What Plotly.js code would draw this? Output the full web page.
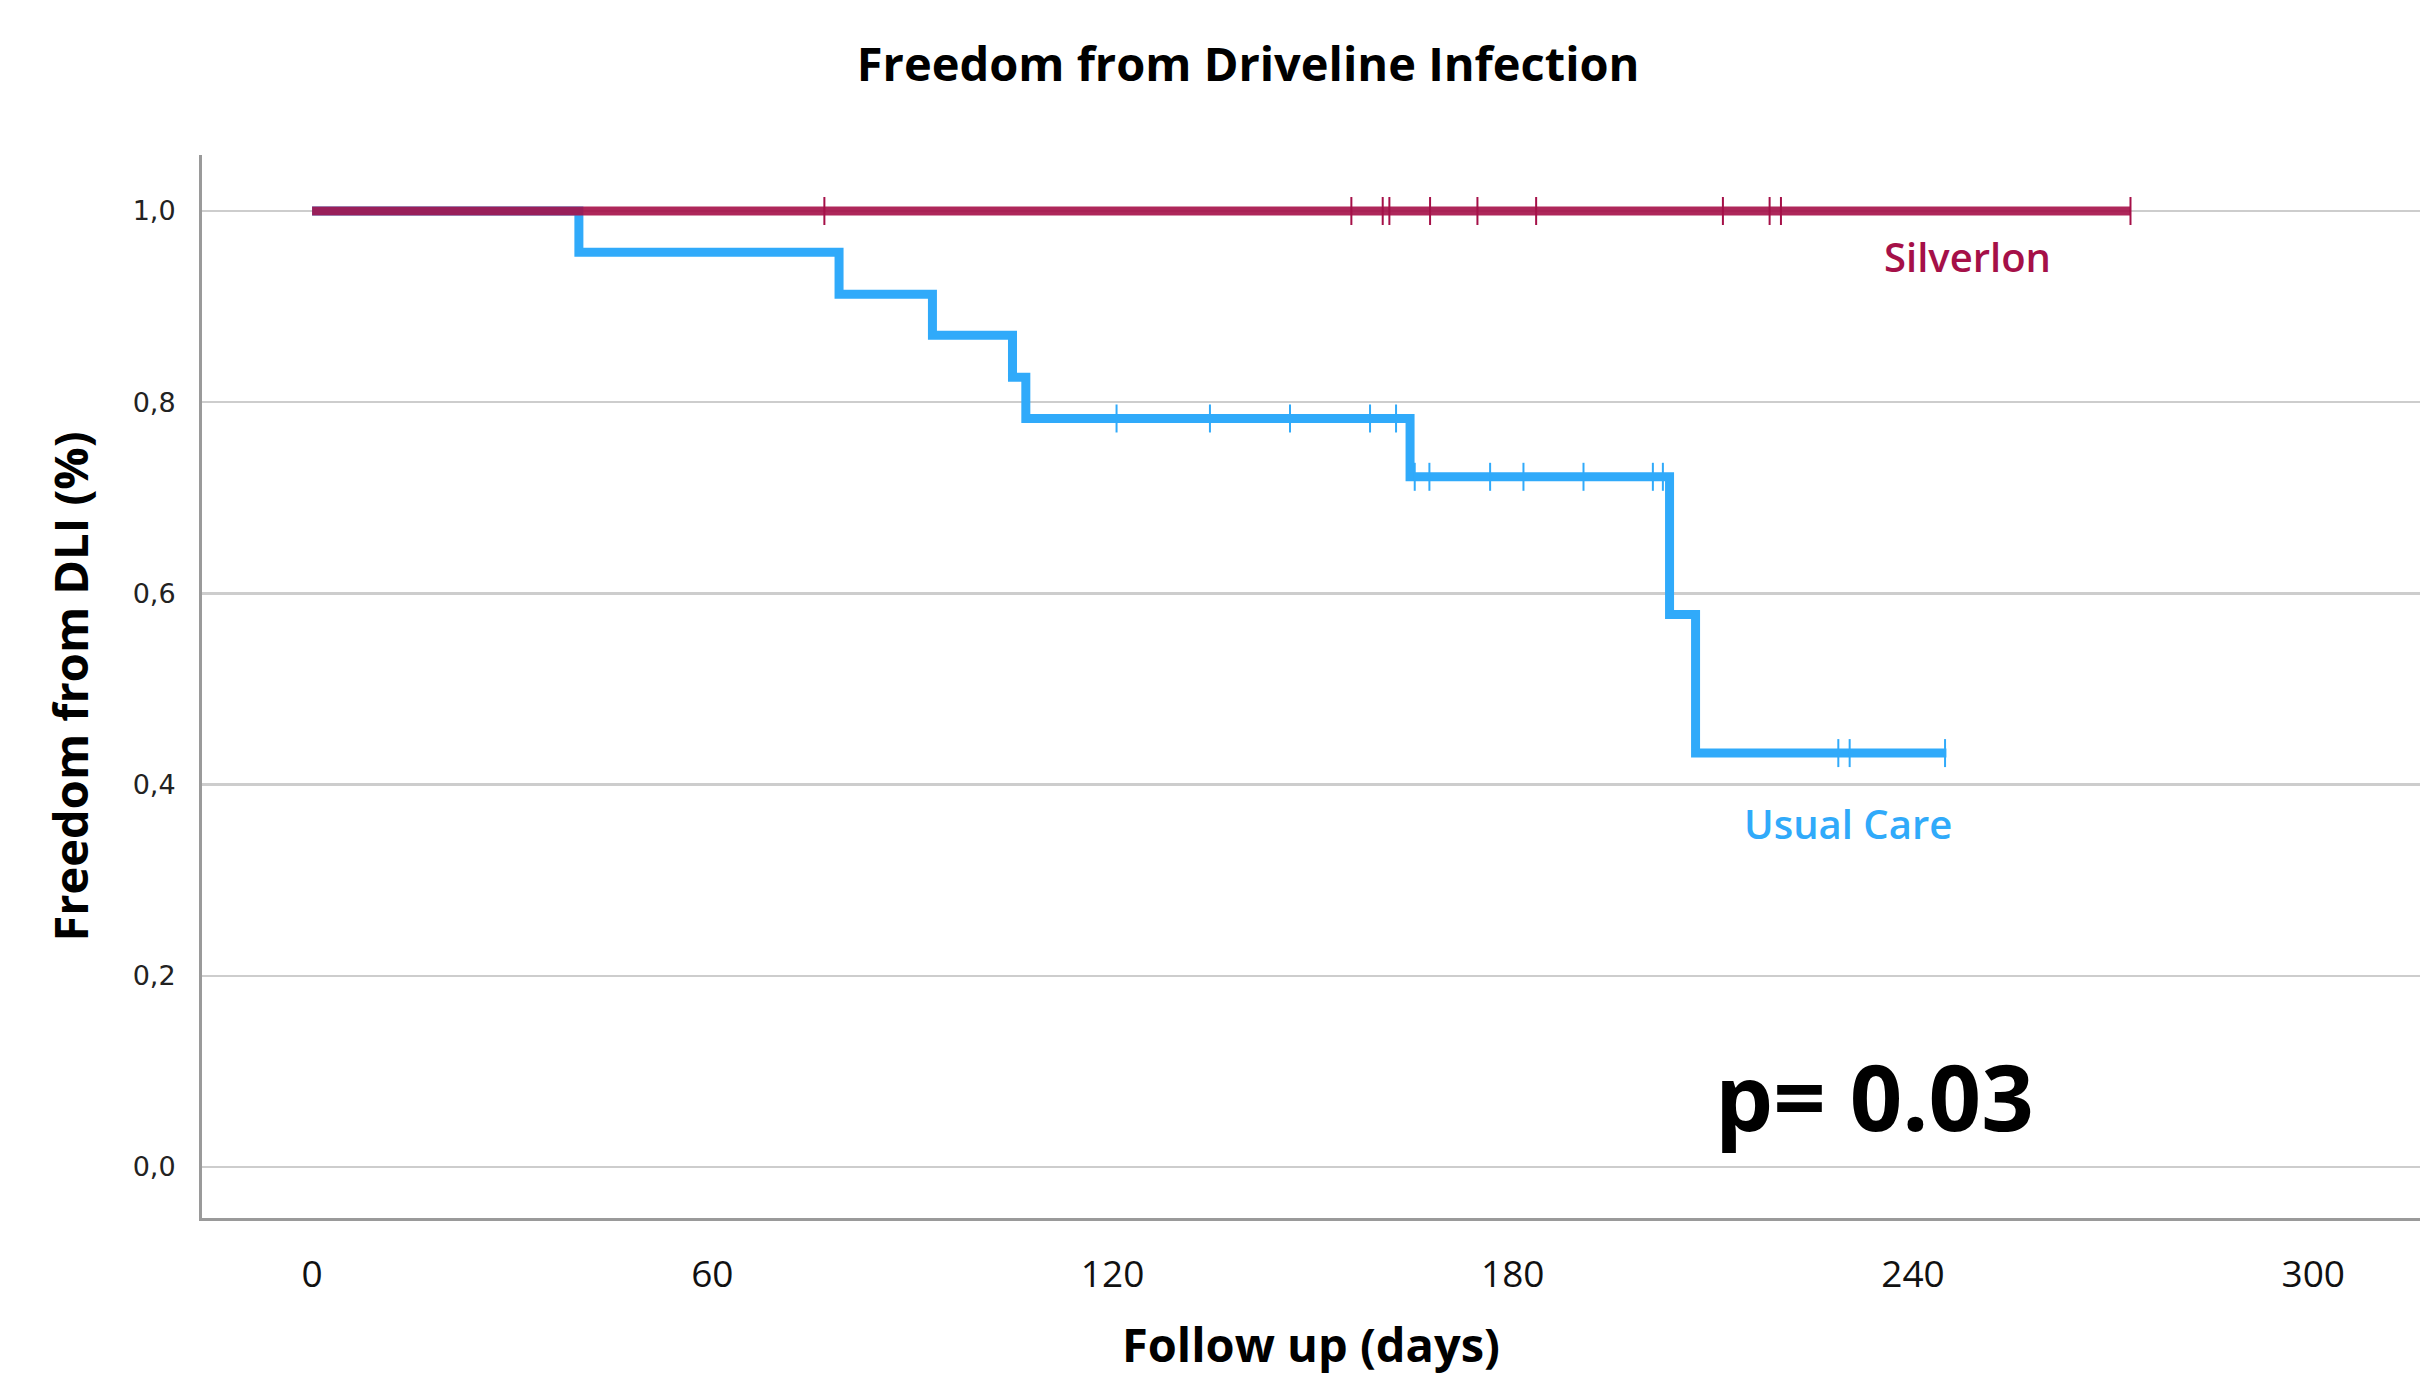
<!DOCTYPE html>
<html>
<head>
<meta charset="utf-8">
<script src="https://cdn.plot.ly/plotly-3.0.1.min.js"></script>
<style>
html, body { margin: 0; padding: 0; background: #ffffff; }
#chart { width: 2433px; height: 1378px; }
</style>
</head>
<body>
<div id="chart"></div>
<script>
// Kaplan-Meier step data (days, survival)
const usualCareTimes = [0, 40, 79, 93, 105, 107, 164.6, 203.5, 207.4, 245];
const usualCareSurv  = [1.0, 0.957, 0.913, 0.870, 0.826, 0.783, 0.722, 0.578, 0.433, 0.433];
const usualCareCensorTimes = [120.6, 134.6, 146.6, 158.6, 162.5, 165.3, 167.5, 176.6, 181.6, 190.6, 201.0, 202.5, 228.8, 230.5, 244.8];
const usualCareCensorSurv  = [0.783, 0.783, 0.783, 0.783, 0.783, 0.722, 0.722, 0.722, 0.722, 0.722, 0.722, 0.722, 0.433, 0.433, 0.433];

const silverlonTimes = [0, 272.6];
const silverlonSurv  = [1.0, 1.0];
const silverlonCensorTimes = [76.8, 155.8, 160.5, 161.5, 167.6, 174.7, 183.5, 211.5, 218.5, 220.2, 272.6];
const silverlonCensorSurv  = [1.0, 1.0, 1.0, 1.0, 1.0, 1.0, 1.0, 1.0, 1.0, 1.0, 1.0];

const xTickVals = [0, 60, 120, 180, 240, 300];
const yTickVals = [0, 0.2, 0.4, 0.6, 0.8, 1.0];

const blue = 'rgb(48,170,250)';
const maroon = 'rgb(165,16,72)';

const traces = [
  {
    x: usualCareTimes, y: usualCareSurv, type: 'scatter', mode: 'lines',
    line: { shape: 'hv', color: blue, width: 9 }, hoverinfo: 'skip', showlegend: false
  },
  {
    x: usualCareCensorTimes, y: usualCareCensorSurv, type: 'scatter', mode: 'markers',
    marker: { symbol: 'line-ns', size: 20, line: { color: blue, width: 2 } },
    hoverinfo: 'skip', showlegend: false
  },
  {
    x: silverlonTimes, y: silverlonSurv, type: 'scatter', mode: 'lines',
    line: { shape: 'hv', color: maroon, width: 9 }, opacity: 0.9, hoverinfo: 'skip', showlegend: false
  },
  {
    x: silverlonCensorTimes, y: silverlonCensorSurv, type: 'scatter', mode: 'markers',
    marker: { symbol: 'line-ns', size: 20, line: { color: maroon, width: 2 } },
    hoverinfo: 'skip', showlegend: false
  }
];

const layout = {
  width: 2433, height: 1378,
  paper_bgcolor: '#ffffff', plot_bgcolor: '#ffffff',
  margin: { l: 202, r: 13, t: 155, b: 160 },
  separators: ', ',
  showlegend: false,
  title: {
    text: '<b>Freedom from Driveline Infection</b>',
    font: { family: 'Open Sans', size: 47, color: '#000000' },
    xref: 'container', x: 0.513, xanchor: 'center',
    yref: 'container', y: 0.953, yanchor: 'middle'
  },
  xaxis: {
    range: [-16.5, 316],
    tickvals: xTickVals,
    ticktext: xTickVals.map(String),
    showgrid: false, zeroline: false,
    showline: true, linecolor: '#9a9a9a', linewidth: 3,
    ticks: '', ticklabelstandoff: 22,
    tickfont: { family: 'Open Sans', size: 37, color: '#111111' },
    title: {
      text: '<b>Follow up (days)</b>',
      font: { family: 'Open Sans', size: 47, color: '#000000' },
      standoff: 32
    }
  },
  yaxis: {
    range: [-0.0533, 1.0586],
    tickvals: yTickVals,
    tickformat: '.1f',
    showgrid: true, gridcolor: '#cdcdcd', gridwidth: 2.5,
    zeroline: false,
    showline: true, linecolor: '#9a9a9a', linewidth: 3,
    ticks: '', ticklabelstandoff: 18,
    tickfont: { family: 'DejaVu Sans', size: 27, color: '#222222' },
    title: {
      text: '<b>Freedom from DLI (%)</b>',
      font: { family: 'Open Sans', size: 47, color: '#000000' },
      standoff: 30
    }
  },
  annotations: [
    {
      x: 248.2, y: 0.952, xref: 'x', yref: 'y', text: 'Silverlon', showarrow: false,
      xanchor: 'center', yanchor: 'middle',
      font: { family: 'Open Sans', size: 40, color: 'rgb(165,16,72)', weight: 600 }
    },
    {
      x: 230.2, y: 0.359, xref: 'x', yref: 'y', text: 'Usual Care', showarrow: false,
      xanchor: 'center', yanchor: 'middle',
      font: { family: 'Open Sans', size: 40, color: 'rgb(48,170,250)', weight: 600 }
    },
    {
      x: 234.2, y: 0.0753, xref: 'x', yref: 'y', text: '<b>p= 0.03</b>', showarrow: false,
      xanchor: 'center', yanchor: 'middle',
      font: { family: 'Open Sans', size: 92, color: '#000000' }
    }
  ]
};

Plotly.newPlot('chart', traces, layout, { displayModeBar: false, staticPlot: true });
</script>
</body>
</html>
